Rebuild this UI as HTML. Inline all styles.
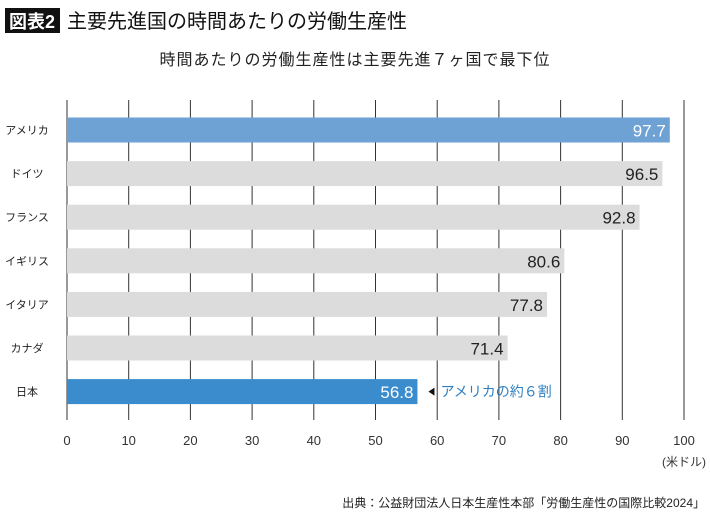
<!DOCTYPE html>
<html><head><meta charset="utf-8"><style>
body{margin:0;background:#fff;font-family:"Liberation Sans","Noto Sans CJK JP",sans-serif;}
#w{position:relative;width:710px;height:513px;overflow:hidden;}
</style></head><body>
<div id="w">
<svg width="710" height="513" style="font-family:'Liberation Sans','Noto Sans CJK JP',sans-serif">
<rect x="5" y="8" width="55" height="25" fill="#111"/>
<text x="32" y="28" fill="#fff" font-size="18" text-anchor="middle" font-weight="bold">図表2</text>
<text x="67" y="28" fill="#111" font-size="20">主要先進国の時間あたりの労働生産性</text>
<text x="355" y="65" fill="#222" font-size="16" letter-spacing="1" text-anchor="middle">時間あたりの労働生産性は主要先進７ヶ国で最下位</text>
<g id="grid"></g><g id="bars"></g>
<text x="684" y="466" fill="#333" font-size="12" text-anchor="middle">(米ドル)</text>
<text x="705" y="507" fill="#222" font-size="12" text-anchor="end">出典：公益財団法人日本生産性本部「労働生産性の国際比較2024」</text>
</svg></div>
<script>
const categories=["アメリカ","ドイツ","フランス","イギリス","イタリア","カナダ","日本"];
const values=[97.7,96.5,92.8,80.6,77.8,71.4,56.8];
const ticks=[0,10,20,30,40,50,60,70,80,90,100];
const ns="http://www.w3.org/2000/svg";
const x=v=>67+v*6.17;
const y=i=>130+i*43.6;
function mk(t,a,p){const e=document.createElementNS(ns,t);for(const k in a)e.setAttribute(k,a[k]);p.appendChild(e);return e;}
const g=document.getElementById('grid'),b=document.getElementById('bars');
ticks.forEach(t=>{
 const l=mk('line',{x1:x(t),x2:x(t),y1:100,y2:420,stroke:'#333','stroke-width':1},g);
 
 
 const tx=mk('text',{x:x(t),y:445,'font-size':13,'text-anchor':'middle',fill:'#333'},g);
 tx.textContent=t;
 
 
});
categories.forEach((c,i)=>{
 const col=i===0?'#6ea2d5':(i===6?'#3a8ccc':'#dcdcdc');
 const r=mk('rect',{x:x(0),y:y(i)-12.5,width:x(values[i])-x(0),height:25,fill:col},b);
 
 
 const lb=mk('text',{x:27,y:y(i)+4,'font-size':11,'text-anchor':'middle',fill:'#222'},b);
 lb.textContent=c;
 
 
 const vt=mk('text',{x:x(values[i])-4,y:y(i)+6.5,'font-size':17,'text-anchor':'end',fill:(i===0||i===6)?'#fff':'#222'},b);
 vt.textContent=values[i].toFixed(1);
 
 
});
const yj=y(6),xj=x(values[6]);
const ar=mk('path',{d:`M${xj+11} ${yj} L${xj+17} ${yj-4} L${xj+17} ${yj+4} Z`,fill:'#111'},b);


const an=mk('text',{x:xj+23,y:yj+5,'font-size':14,fill:'#2f7fc0'},b);
an.textContent='アメリカの約６割';


</script>
</body></html>
